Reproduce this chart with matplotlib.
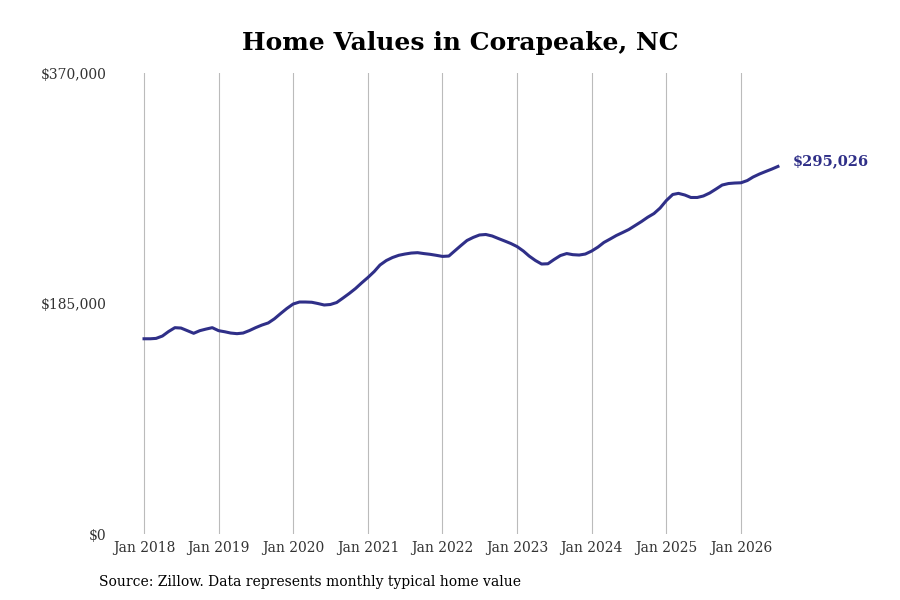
import matplotlib.pyplot as plt
import matplotlib.dates as mdates
import pandas as pd

# monthly typical home value, Jan 2018 - Jul 2026
months = pd.date_range('2018-01-01', '2026-07-01', freq='MS')
values = [
    156700, 156700, 157000, 158900, 162500, 165600, 165300, 163200, 161100, 163200, 164500, 165600,
    163200, 162300, 161300, 160800, 161300, 163300, 165600, 167700, 169400, 172700, 177000, 181000,
    184600, 186200, 186200, 186000, 185000, 183800, 184200, 185800, 189400, 193000, 197000, 201500,
    205900, 210700, 215900, 219500, 221900, 223700, 224700, 225500, 225800, 225100, 224500, 223700,
    222800, 223100, 227100, 231500, 235600, 238100, 240000, 240400, 239200, 237200, 235200, 233200,
    230700, 227100, 223100, 219500, 216700, 216900, 220300, 223500, 225100, 224200, 223900, 224700,
    227100, 230300, 234000, 236800, 239600, 242000, 244400, 247600, 250800, 254200, 257200, 261600,
    267700, 272500, 273400, 272100, 270100, 270100, 271300, 273700, 276900, 280100, 281300, 281700,
    281900, 283700, 286500, 288900, 290900, 292900, 295026,
]
year_ticks = pd.date_range('2018-01-01', '2026-01-01', freq='YS')
y_ticks = [0, 185000, 370000]

line_color = '#2f2f88'
plt.rcParams['font.family'] = 'DejaVu Serif'

fig = plt.figure(figsize=(9, 6), dpi=100)
ax = fig.add_axes([0.1278, 0.11, 0.7611, 0.7683])

ax.plot(months, values, color=line_color, linewidth=2.2)

ax.set_ylim(0, 370000)
ax.set_xlim(year_ticks[0] - pd.Timedelta(days=142), year_ticks[-1] + pd.Timedelta(days=289))
ax.set_xticks(year_ticks)
ax.xaxis.set_major_formatter(mdates.DateFormatter('Jan %Y'))
ax.set_yticks(y_ticks)
ax.set_yticklabels(['${:,.0f}'.format(v) for v in y_ticks])
ax.tick_params(length=0, labelsize=10, colors='#333333')
ax.tick_params(axis='y', pad=6)
ax.tick_params(axis='x', pad=5)
ax.grid(axis='x', color='#bbbbbb', linewidth=0.8)
for s in ax.spines.values():
    s.set_visible(False)

ax.annotate('${:,.0f}'.format(values[-1]), (months[-1], values[-1]),
            xytext=(11, 4), textcoords='offset points', va='center', ha='left',
            fontsize=10.5, fontweight='bold', color=line_color)

fig.text(0.512, 0.928, 'Home Values in Corapeake, NC', ha='center', va='center',
         fontsize=18, fontweight='bold')
fig.text(0.11, 0.03, 'Source: Zillow. Data represents monthly typical home value',
         ha='left', va='center', fontsize=10)

fig.savefig('out.png', dpi=100)
